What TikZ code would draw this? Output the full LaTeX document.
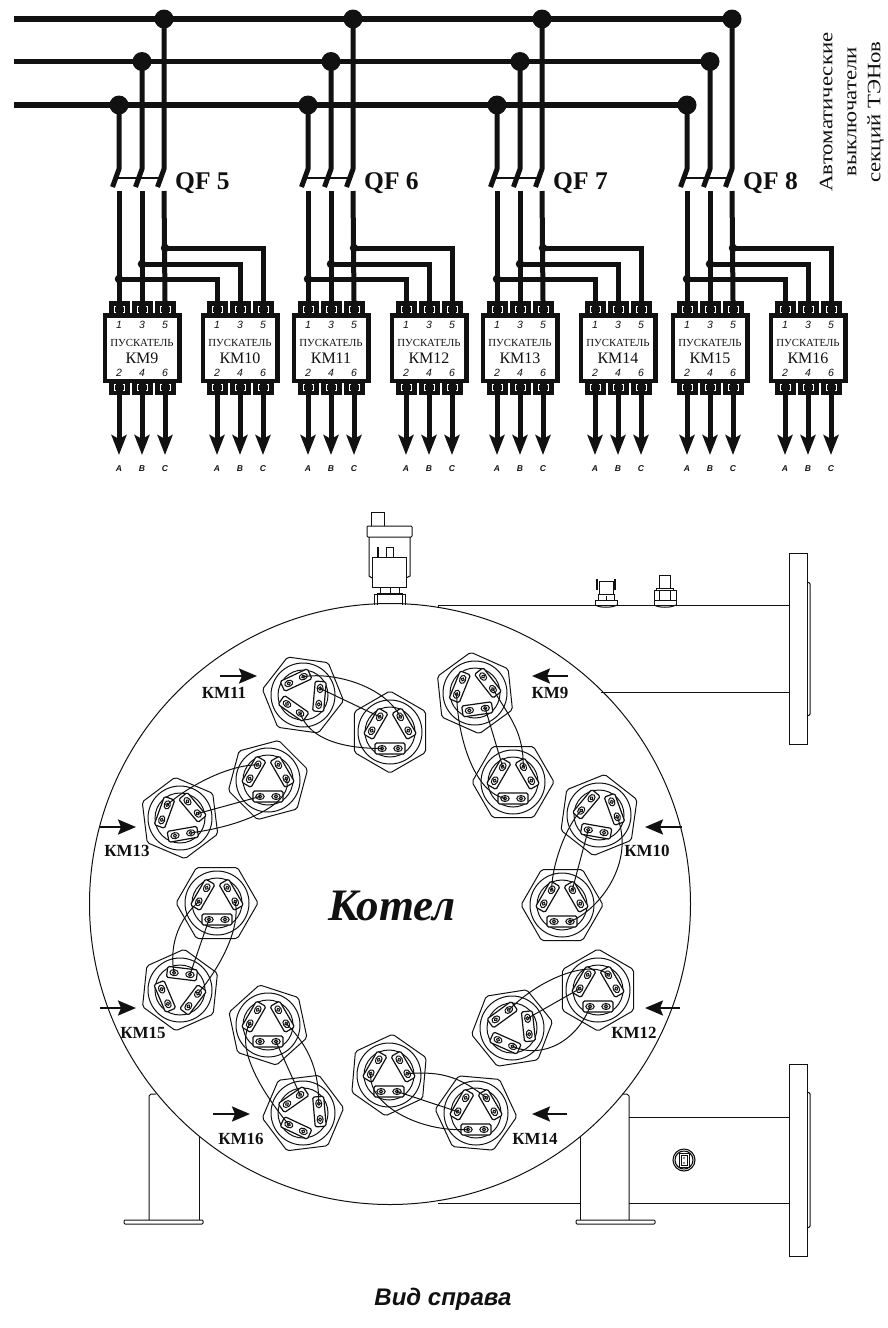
\documentclass[tikz,border=0pt]{standalone}
\usepackage{fontspec}
\setmainfont{Liberation Serif}
\newfontfamily\arialfont{Liberation Sans}
\usetikzlibrary{arrows.meta}
\definecolor{ink}{HTML}{111111}

\tikzset{
  bus/.style={line width=5.5pt,ink},
  wire/.style={line width=5pt,ink},
  bondwire/.style={line width=1pt,ink},
  thinline/.style={line width=1pt,ink},
  plateline/.style={line width=1.2pt,ink},
  busdot/.style={circle,fill=ink,inner sep=0pt,minimum size=19pt},
  branchdot/.style={circle,fill=ink,inner sep=0pt,minimum size=8.5pt},
  starterbox/.style={rectangle,draw=ink,fill=white,line width=4.5pt,inner sep=0pt,minimum width=74.5pt,minimum height=65.5pt},
  contact/.style={rectangle,fill=ink,inner sep=0pt,minimum width=21pt,minimum height=12pt},
  pinno/.style={font=\arialfont\itshape\fontsize{10.5}{11}\selectfont,text=ink,inner sep=0pt},
  phaseno/.style={font=\arialfont\bfseries\itshape\fontsize{8.5}{9}\selectfont,text=ink,inner sep=0pt},
  qflabel/.style={font=\bfseries\fontsize{25.5}{27}\selectfont,text=ink,anchor=west,inner sep=0pt},
  kmlabel/.style={font=\bfseries\fontsize{17}{18}\selectfont,text=ink,inner sep=0pt},
  kmarrow/.style={line width=2.4pt,ink,-{Stealth[length=18pt,width=15pt,inset=3pt]}},
  outarrow/.style={wire,-{Stealth[length=20pt,width=15pt,inset=4pt]}},
}

% one starter: name, centre x, text
\newcommand{\starter}[3]{
  \node[starterbox] (#1) at (#2,348) {};
  \foreach \pin/\pout/\d/\ph in {1/2/-23/A,3/4/0/B,5/6/23/C}{
    \node[contact] (#1-\pin) at (#2+\d,307) {};
    \node[contact] (#1-\pout) at (#2+\d,389) {};
    \draw[white,line width=1pt] (#2+\d-3.5,306) -- (#2+\d-5,306) -- (#2+\d-5,312) -- (#2+\d-3.5,312)
      (#2+\d+3.5,306) -- (#2+\d+5,306) -- (#2+\d+5,312) -- (#2+\d+3.5,312);
    \draw[white,line width=1pt] (#2+\d-3.5,384) -- (#2+\d-5,384) -- (#2+\d-5,390) -- (#2+\d-3.5,390)
      (#2+\d+3.5,384) -- (#2+\d+5,384) -- (#2+\d+5,390) -- (#2+\d+3.5,390);
    \node[pinno] (#1-n\pin) at (#2+\d,324.5) {\pin};
    \node[pinno] (#1-n\pout) at (#2+\d,373) {\pout};
    \coordinate (#1-tip\pout) at (#2+\d,455);
    \draw[outarrow] (#1-\pout.south) -- (#1-tip\pout);
    \node[phaseno] (#1-ph\ph) at (#2+\d,469) {\ph};
  }
  \node[inner sep=0pt,text=ink,font=\fontsize{10.8}{11}\selectfont] (#1-t) at (#2,343) {ПУСКАТЕЛЬ};
  \node[inner sep=0pt,text=ink,font=\fontsize{16}{17}\selectfont] (#1-k) at (#2,358) {#3};
}

% one terminal fitting: name, x, y, plate angle, hexagon angle
\newcommand{\fitting}[5]{
  \begin{scope}[shift={(#2,#3)}]
    \draw[thinline,rotate=#5,rounded corners=2pt] (0:41) -- (60:41) -- (120:41) -- (180:41) -- (240:41) -- (300:41) -- cycle;
    \draw[thinline] (0,0) circle (32pt) (0,0) circle (25pt);
    \begin{scope}[rotate=#4]
      \foreach \p/\a in {a/0,b/120,c/240}{
        \begin{scope}[rotate=\a]
          \draw[plateline,fill=white,rounded corners=1.5pt] (11,-15) rectangle (22,15);
          \draw[bondwire] (16.5,8) ellipse (3pt and 4.2pt) (16.5,-8) ellipse (3pt and 4.2pt);
          \draw[bondwire] (16.5,8) circle (1.6pt) (16.5,-8) circle (1.6pt);
          \coordinate (#1-\p1) at (16.5,8);
          \coordinate (#1-\p2) at (16.5,-8);
        \end{scope}
      }
    \end{scope}
  \end{scope}
}

\begin{document}
\begin{tikzpicture}[x=1pt,y=-1pt]
\useasboundingbox (0,0) rectangle (888,1328);

% busbars
\coordinate (busC) at (14,19);
\coordinate (busB) at (14,61.5);
\coordinate (busA) at (14,105);

\foreach \g/\dx/\qf/\kma/\kmb in {1/0/5/9/10,2/189/6/11/12,3/378/7/13/14,4/568/8/15/16}{
  \node[busdot] (dotC\g) at (164+\dx,19) {};
  \node[busdot] (dotB\g) at (142+\dx,61.5) {};
  \node[busdot] (dotA\g) at (119+\dx,105) {};

  \starter{KM\kma}{142+\dx}{КМ\kma}
  \starter{KM\kmb}{240+\dx}{КМ\kmb}

  \foreach \ph/\xx in {A/119,B/142,C/164}{
    \coordinate (sw\ph\g) at (\xx+\dx,169);
    \coordinate (sx\ph\g) at (\xx+\dx-6.5,187);
    \coordinate (lo\ph\g) at (\xx+\dx,191);
    \draw[wire,line join=bevel] (dot\ph\g.center) -- (sw\ph\g) -- (sx\ph\g);
  }
  \coordinate (lnk1\g) at (115.5+\dx,178);
  \coordinate (lnk2\g) at (160.5+\dx,178);
  \draw[line width=2pt,ink] (lnk1\g) -- (lnk2\g);

  \node[branchdot] (brA\g) at (119+\dx,279) {};
  \node[branchdot] (brB\g) at (142+\dx,264) {};
  \node[branchdot] (brC\g) at (165+\dx,248) {};

  \draw[wire] (loA\g) -- (KM\kma-1.north);
  \draw[wire] (loB\g) -- (KM\kma-3.north);
  \draw[wire] (loC\g) -- (KM\kma-5.north);
  \draw[wire] (brA\g.center) -| (KM\kmb-1.north);
  \draw[wire] (brB\g.center) -| (KM\kmb-3.north);
  \draw[wire] (brC\g.center) -| (KM\kmb-5.north);

  \node[qflabel] (QF\qf) at (175+\dx,183) {QF \qf};
}
\draw[bus] (busC) -- (dotC4.center);
\draw[bus] (busB) -- (dotB4.center);
\draw[bus] (busA) -- (dotA4.center);

\node[rotate=90,xscale=1.2,transform shape,align=center,text=ink,inner sep=0pt,font=\fontsize{19}{24}\selectfont] (QFnote) at (852,112) {Автоматические\\выключатели\\секций ТЭНов};

% boiler
\draw[thinline] (390,904) circle (300.5pt);

% shell and flanges
\draw[thinline] (438,607) -- (438,605) -- (789,605);
\draw[thinline] (601,692) -- (789,692);
\draw[thinline,fill=white] (789,553) rectangle (807,744);
\draw[thinline,rounded corners=1pt] (807,582) -- (810,583) -- (810,715) -- (807,716);
\draw[thinline] (629,1117) -- (789,1117);
\draw[thinline] (438,1203) -- (580,1203) (629,1203) -- (789,1203);
\draw[thinline,fill=white] (789,1064) rectangle (807,1256);
\draw[thinline,rounded corners=1pt] (807,1092) -- (810,1093) -- (810,1227) -- (807,1228);

% feet
\draw[thinline] (156,1094) -- (151,1094) -- (149,1096) -- (149,1220);
\draw[thinline] (199,1137) -- (199,1220);
\draw[thinline,rounded corners=1pt] (124,1220) rectangle (203,1224);
\draw[thinline] (580,1136) -- (580,1220);
\draw[thinline] (622,1094) -- (627,1094) -- (629,1096) -- (629,1220);
\draw[thinline,rounded corners=1pt] (576,1220) rectangle (655,1224);

% valve on top
\draw[thinline] (371,526) -- (371,512) -- (384,512) -- (384,526);
\draw[thinline,rounded corners=1pt] (367,526) rectangle (412,537);
\draw[thinline] (369,537) -- (369,576) -- (372,578) (410,537) -- (410,576) -- (406,578);
\draw[thinline] (372,557) rectangle (406,587);
\draw[thinline] (386,557) -- (386,547) -- (393,547) -- (393,557);
\draw[line width=1.3pt,ink] (378,547) -- (378,557);
\draw[thinline] (380,587) rectangle (399,593);
\draw[thinline] (390,587) -- (390,593);
\draw[thinline] (374,605) -- (374,594) -- (405,594) -- (405,605);
\draw[thinline] (377,605) -- (377,593) -- (402,593) -- (402,605);

% two small gauges on the shell
\draw[thinline] (595,605) -- (595,600) -- (617,600) -- (617,605);
\draw[thinline] (595,605) .. controls (600,608) and (612,608) .. (617,605);
\draw[thinline] (598,600) rectangle (614,594);
\draw[thinline] (599,594) rectangle (613,581);
\draw[line width=1.4pt,ink] (597,579) -- (597,590) (615,579) -- (615,590);
\draw[thinline] (606,596) -- (606,600);
\draw[thinline] (654,605) -- (654,590) -- (676,590) -- (676,605);
\draw[thinline] (654,600) -- (676,600) (659,590) -- (659,600) (670,590) -- (670,600);
\draw[thinline] (654,605) .. controls (659,608) and (671,608) .. (676,605);
\draw[thinline] (656,590) -- (656,588) -- (673,588) -- (673,590);
\draw[thinline] (659,588) -- (659,575) -- (670,575) -- (670,588);

% sensor on the lower tube
\draw[line width=1.1pt,ink] (684,1160) circle (11pt) (684,1160) circle (9pt);
\draw[thinline] (679,1153) rectangle (689,1167);
\draw[thinline] (681,1155) rectangle (687,1165);
\fill[ink] (684,1158) circle (0.8pt) (684,1163) circle (0.8pt);

% fittings
\fitting{FA}{475}{693}{-82}{-84}
\fitting{FB}{513}{782}{-90}{0}
\fitting{GA}{599}{815}{-100}{-98}
\fitting{GB}{562}{905}{-90}{0}
\fitting{HA}{303}{695}{-5}{-8}
\fitting{HB}{390}{732}{-90}{90}
\fitting{JA}{598}{990}{-90}{90}
\fitting{JB}{512}{1028}{6}{9}
\fitting{LA}{268}{780}{-90}{15}
\fitting{LB}{180}{818}{-80}{-83}
\fitting{MA}{217}{903}{-90}{0}
\fitting{MB}{180}{990}{83}{84}
\fitting{NA}{268}{1025}{-90}{42}
\fitting{NB}{303}{1113}{5}{7}
\fitting{PA}{389}{1075}{-90}{85}
\fitting{PB}{476}{1113}{-90}{-5}

% links inside each pair
\draw[bondwire] (FA-c2) .. controls +(0,32) and +(-35,-8) .. (FB-a1);
\draw[bondwire] (FA-a2) -- (FB-c1);
\draw[bondwire] (FA-b1) .. controls +(18,30) and +(0,-35) .. (FB-b2);

\draw[bondwire] (GA-c2) .. controls +(-15,15) and +(0,-25) .. (GB-c1);
\draw[bondwire] (GA-a1) -- (GB-b2);
\draw[bondwire] (GA-b1) .. controls +(18,45) and +(30,-12) .. (GB-a2);

\draw[bondwire] (HA-b1) .. controls +(32,-5) and +(-15,-30) .. (HB-b2);
\draw[bondwire] (HA-a2) -- (HB-c1);
\draw[bondwire] (HA-c2) .. controls +(10,28) and +(-35,0) .. (HB-a1);

\draw[bondwire] (JB-a2) -- (JA-c2);
\draw[bondwire] (JB-b1) .. controls +(35,-35) and +(-15,-15) .. (JA-b2);
\draw[bondwire] (JB-c2) .. controls +(32,14) and +(-12,32) .. (JA-a1);

\draw[bondwire] (LB-c1) .. controls +(20,-18) and +(-30,0) .. (LA-c1);
\draw[bondwire] (LB-b1) -- (LA-a1);
\draw[bondwire] (LB-a2) .. controls +(60,-8) and +(8,22) .. (LA-b1);

\draw[bondwire] (MA-c2) .. controls +(-28,25) and +(-3,-15) .. (MB-a2);
\draw[bondwire] (MA-a1) -- (MB-a1);
\draw[bondwire] (MA-b1) .. controls +(5,25) and +(25,-30) .. (MB-c2);

\draw[bondwire] (NA-c2) .. controls +(-15,25) and +(-25,-30) .. (NB-c1);
\draw[bondwire] (NA-a2) -- (NB-b1);
\draw[bondwire] (NA-b1) .. controls +(25,25) and +(0,-30) .. (NB-a2);

\draw[bondwire] (PA-c2) .. controls +(-3,30) and +(-50,3) .. (PB-a1);
\draw[bondwire] (PA-a2) -- (PB-c2);
\draw[bondwire] (PA-b1) .. controls +(35,-3) and +(-25,-20) .. (PB-b2);

% feed arrows and their labels
\foreach \nm/\xs/\xe/\ya/\xl/\yl in {9/568/532/676/550/693,11/220/257/676/224/693,10/682/645/827/647/851,13/100/136/827/127/851,12/680/645/1008/634/1033,15/100/136/1008/143/1033,14/567/532/1114/535/1139,16/213/250/1114/241/1139}{
  \coordinate (feedS\nm) at (\xs,\ya);
  \coordinate (feedE\nm) at (\xe,\ya);
  \draw[kmarrow] (feedS\nm) -- (feedE\nm);
  \node[kmlabel] (feedL\nm) at (\xl,\yl) {КМ\nm};
}

\node[inner sep=0pt,text=ink,font=\bfseries\itshape\fontsize{45}{48}\selectfont] (boilertxt) at (392,906) {Котел};
\node[inner sep=0pt,text=ink,font=\arialfont\bfseries\itshape\fontsize{24}{26}\selectfont] (viewtxt) at (443,1299) {Вид справа};

\end{tikzpicture}
\end{document}
